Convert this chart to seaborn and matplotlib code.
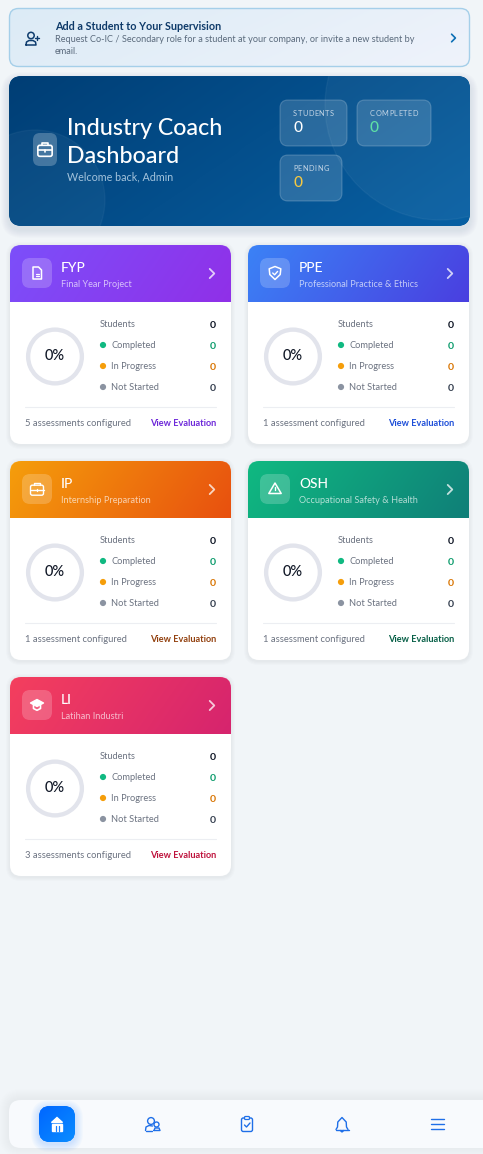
import numpy as np
import pandas as pd
import matplotlib
matplotlib.use("Agg")
import matplotlib.pyplot as plt
from matplotlib.patches import FancyBboxPatch, Circle, Rectangle, Polygon
from matplotlib.colors import LinearSegmentedColormap
import seaborn as sns

# ---------- data ----------
programmes = ["FYP", "PPE", "IP", "OSH", "LI"]
subtitles = ["Final Year Project", "Professional Practice & Ethics", "Internship Preparation",
             "Occupational Safety & Health", "Latihan Industri"]
assessments = ["5 assessments configured", "1 assessment configured", "1 assessment configured",
               "1 assessment configured", "3 assessments configured"]
percent_done = [0, 0, 0, 0, 0]
students = [0, 0, 0, 0, 0]
completed = [0, 0, 0, 0, 0]
in_progress = [0, 0, 0, 0, 0]
not_started = [0, 0, 0, 0, 0]
grad_start = ["#7c4ffa", "#3b82f6", "#f59e0b", "#10b981", "#f43f5e"]
grad_end = ["#9030e8", "#4a3fe0", "#e8500f", "#0f7f78", "#d6246e"]
link_colors = ["#6d28d9", "#1d4ed8", "#92400e", "#065f46", "#be123c"]
status_labels = ["Completed", "In Progress", "Not Started"]
status_dots = ["#10b981", "#f59e0b", "#8b93a1"]
status_values = ["#0f9d6e", "#d97706", "#374151"]
hero_labels = ["STUDENTS", "COMPLETED", "PENDING"]
hero_values = [0, 0, 0]
hero_value_colors = ["#ffffff", "#5fe0a5", "#f5c842"]

W, H = 483, 1154
sns.set_theme(style="white")
FONT = "Lato"
plt.rcParams["font.family"] = [FONT, "DejaVu Sans"]

fig = plt.figure(figsize=(W / 100, H / 100), dpi=100, facecolor="#f1f5f8")
ax = fig.add_axes([0, 0, 1, 1])
ax.set_facecolor("#f1f5f8")
ax.set_xlim(0, W)
ax.set_ylim(H, 0)
ax.axis("off")


def px(s):
    return s * 0.72


def rrect(x, y, w, h, r, fc="none", ec="none", lw=0, alpha=None, z=2):
    p = FancyBboxPatch((x, y), w, h, boxstyle=f"round,pad=0,rounding_size={r}",
                       fc=fc, ec=ec, lw=lw, alpha=alpha, zorder=z)
    ax.add_patch(p)
    return p


def shadow(x, y, w, h, r, spread=6, dy=2, a=0.012, color="#334155", z=1.5):
    for i in range(spread, 0, -1):
        rrect(x - i, y - i + dy, w + 2 * i, h + 2 * i, r + i, fc=color, alpha=a, z=z)


def gradient(x, y, w, h, c0, c1, clip, z=2.1, angle=20):
    cmap = LinearSegmentedColormap.from_list("g", [c0, c1])
    xs, ys = np.meshgrid(np.linspace(0, 1, 160), np.linspace(0, 1, 80))
    a = np.deg2rad(angle)
    t = xs * np.cos(a) + ys * np.sin(a)
    t = (t - t.min()) / (t.max() - t.min())
    im = ax.imshow(t, cmap=cmap, extent=(x, x + w, y + h, y), aspect="auto",
                   interpolation="bilinear", zorder=z)
    im.set_clip_path(clip)


def line(xs, ys, c="#ffffff", lw=1.0, z=5, alpha=None):
    ax.plot(xs, ys, color=c, lw=lw, zorder=z, alpha=alpha,
            solid_capstyle="round", solid_joinstyle="round")


def txt(x, y, s, size, c, ha="left", weight="normal", z=6, alpha=None):
    ax.text(x, y + 0.6, s, fontsize=px(size), color=c, ha=ha, va="center", fontweight=weight,
            zorder=z, alpha=alpha, family=[FONT, "DejaVu Sans"])


def spaced(x, y, s, size, c, width):
    """Letter-spaced label drawn to span the given width."""
    t = ax.text(x, y + 0.6, s, fontsize=px(size), color=c, va="center", zorder=6, alpha=0)
    r = fig.canvas.get_renderer()
    natural = t.get_window_extent(r).width
    t.remove()
    gap = (width - natural) / max(len(s) - 1, 1)
    cursor = x
    for i, ch in enumerate(s):
        ax.text(cursor, y + 0.6, ch, fontsize=px(size), color=c, va="center", zorder=6)
        pre = ax.text(0, 0, s[: i + 1], fontsize=px(size), alpha=0)
        cursor = x + pre.get_window_extent(r).width + gap * (i + 1)
        pre.remove()


def chevron(x, y, s, c, lw=1.2, alpha=None):
    line([x - s / 2, x + s / 2, x - s / 2], [y - s, y, y + s], c, lw, alpha=alpha)


def ring(cx, cy, r, ec, lw=1.0, fc="none", z=5):
    ax.add_patch(Circle((cx, cy), r, fc=fc, ec=ec, lw=lw, zorder=z))


def icon_doc(cx, cy, c="#ffffff"):
    ax.add_patch(Polygon([(cx - 4, cy - 6), (cx + 1.5, cy - 6), (cx + 4.5, cy - 3), (cx + 4.5, cy + 6), (cx - 4, cy + 6)],
                         closed=True, fc="none", ec=c, lw=1.1, joinstyle="round", zorder=5))
    line([cx - 1.5, cx + 2], [cy + 0.5, cy + 0.5], c, 0.9)
    line([cx - 1.5, cx + 2], [cy + 3, cy + 3], c, 0.9)


def icon_shield(cx, cy, c="#ffffff"):
    ax.add_patch(Polygon([(cx, cy - 6.5), (cx + 5.8, cy - 4.2), (cx + 5.2, cy + 1.5), (cx, cy + 6.5), (cx - 5.2, cy + 1.5), (cx - 5.8, cy - 4.2)],
                         closed=True, fc="none", ec=c, lw=1.1, joinstyle="round", zorder=5))
    line([cx - 2.3, cx - 0.4, cx + 2.6], [cy, cy + 1.8, cy - 1.6], c, 1.0)


def icon_case(cx, cy, c="#ffffff", s=1.0, lw=1.0):
    rrect(cx - 6.5 * s, cy - 3.8 * s, 13 * s, 10 * s, 1.8 * s, ec=c, lw=lw, z=5)
    line([cx - 2.6 * s, cx - 2.6 * s, cx + 2.6 * s, cx + 2.6 * s], [cy - 3.8 * s, cy - 6 * s, cy - 6 * s, cy - 3.8 * s], c, lw)
    line([cx - 6.5 * s, cx + 6.5 * s], [cy + 0.8 * s, cy + 0.8 * s], c, lw)
    line([cx, cx], [cy + 0.2 * s, cy + 2.2 * s], c, lw)


def icon_warn(cx, cy, c="#ffffff"):
    ax.add_patch(Polygon([(cx, cy - 6), (cx + 6.2, cy + 4.5), (cx - 6.2, cy + 4.5)], closed=True, fc="none", ec=c, lw=1.1,
                         joinstyle="round", zorder=5))
    line([cx, cx], [cy - 2, cy + 0.8], c, 1.0)
    line([cx, cx + 0.01], [cy + 2.8, cy + 2.8], c, 1.1)


def icon_cap(cx, cy, c="#ffffff"):
    ax.add_patch(Polygon([(cx, cy - 5.5), (cx + 6.5, cy - 2), (cx, cy + 1.5), (cx - 6.5, cy - 2)], closed=True, fc="#ffffff", ec=c,
                         lw=1.0, joinstyle="round", zorder=5))
    line([cx - 3.5, cx - 3.5, cx, cx + 3.5, cx + 3.5], [cy, cy + 3.5, cy + 5.3, cy + 3.5, cy], c, 1.2)


card_icons = [icon_doc, icon_shield, icon_case, icon_warn, icon_cap]

# ---------- banner ----------
clip = rrect(9.5, 8.5, 460, 58, 9, fc="#e6eff8", z=2)
gradient(9.5, 8.5, 460, 58, "#dcebf6", "#eff3fb", clip, z=2.05, angle=15)
rrect(9.5, 8.5, 460, 58, 9, ec="#a5cfe9", lw=1.0, z=2.2)
ring(31, 35.5, 3.2, "#0f3d6e", 1.1)
line([26, 26.5, 29, 33, 35.5, 36, 26], [45, 42, 40.5, 40.5, 42, 45, 45], "#0f3d6e", 1.1)
line([35, 39], [37.5, 37.5], "#0f3d6e", 1.0)
line([37, 37], [35.5, 39.5], "#0f3d6e", 1.0)
txt(55, 25.5, "Add a Student to Your Supervision", 10.8, "#0e3a69", weight="bold")
txt(55, 38.5, "Request Co-IC / Secondary role for a student at your company, or invite a new student by", 9.15, "#5a6a7c")
txt(55, 51, "email.", 9.15, "#5a6a7c")
chevron(453.5, 38, 3.8, "#0c6fb5", 1.2)

# ---------- hero ----------
shadow(9, 76, 461, 150, 13, spread=8, dy=4, a=0.012)
hero = rrect(9, 76, 461, 150, 13, fc="#004f8c", z=2)
gradient(9, 76, 461, 150, "#003e75", "#0860a3", hero, z=2.05, angle=25)
c1 = Circle((440, 105), 115, fc="#ffffff", alpha=0.045, zorder=2.2)
ax.add_patch(c1)
c1.set_clip_path(hero)
c2 = Circle((35, 200), 70, fc="#ffffff", alpha=0.04, zorder=2.2)
ax.add_patch(c2)
c2.set_clip_path(hero)
rrect(33, 133, 24, 33, 7, fc="#ffffff", alpha=0.24, z=3)
icon_case(45, 149.5, "#ffffff", s=1.1, lw=1.2)
txt(67, 128, "Industry Coach", 23.3, "#ffffff", weight="medium")
txt(67, 155.5, "Dashboard", 23.3, "#ffffff", weight="medium")
txt(67, 176.5, "Welcome back, Admin", 10.8, "#a3c3dc")
boxes = [(280, 100, 67, 46), (357, 100, 74, 46), (280, 155, 62, 46)]
label_widths = [40.5, 47.5, 35.5]
for (x, y, w, h), lab, lw_, val, col in zip(boxes, hero_labels, label_widths, hero_values, hero_value_colors):
    rrect(x, y, w, h, 8, fc="#ffffff", alpha=0.15, z=3)
    rrect(x, y, w, h, 8, ec="#ffffff", lw=0.8, alpha=0.2, z=3.1)
    spaced(x + 13, y + 12.5, lab, 7.4, "#c5d6e6", lw_)
    txt(x + 13, y + 27.5, str(val), 15.5, col, weight="medium")

# ---------- programme cards ----------
slots = [(10, 245), (248, 245), (10, 461), (248, 461), (10, 677)]
rows = []
for i, (cx, cy) in enumerate(slots):
    cw, ch = 221, 199
    shadow(cx, cy, cw, ch, 11, spread=4, dy=1, a=0.014)
    card = rrect(cx, cy, cw, ch, 11, fc="#ffffff", z=2)
    gradient(cx, cy, cw, 57, grad_start[i], grad_end[i], card, z=2.1, angle=10)
    rrect(cx + 12, cy + 13, 30, 30, 8, fc="#ffffff", alpha=0.2, z=3)
    card_icons[i](cx + 27, cy + 28)
    txt(cx + 51, cy + 22.5, programmes[i], 13.8, "#ffffff", weight="medium")
    txt(cx + 51, cy + 39, subtitles[i], 9.15, "#ffffff", alpha=0.68)
    chevron(cx + 202, cy + 28.5, 4.6, "#ffffff", 1.3, alpha=0.75)

    # progress ring from the completion share
    ring_ax = ax.inset_axes([cx + 14.5, cy + 81, 61, 61], transform=ax.transData, zorder=4)
    share = [percent_done[i], 100 - percent_done[i]]
    ring_ax.pie(share, radius=1.0, startangle=90, counterclock=False, colors=[grad_end[i], "#e2e4ec"],
                wedgeprops=dict(width=0.15, edgecolor="none"))
    ring_ax.set_xlim(-1.05, 1.05)
    ring_ax.set_ylim(-1.05, 1.05)
    ring_ax.patch.set_alpha(0)
    txt(cx + 45, cy + 110.5, f"{percent_done[i]}%", 14.5, "#111827", ha="center", weight="medium")

    txt(cx + 90, cy + 79, "Students", 9.3, "#6b7280")
    txt(cx + 206, cy + 79.5, str(students[i]), 10.5, "#111827", ha="right", weight="bold")
    for j, (lab, val) in enumerate(zip(status_labels, (completed[i], in_progress[i], not_started[i]))):
        yy = cy + 100 + 21 * j
        rows.append({"x": cx + 93, "y": yy, "status": lab})
        txt(cx + 101, yy, lab, 9.3, "#6b7280")
        txt(cx + 206, yy + 0.5, str(val), 10.5, status_values[j], ha="right", weight="bold")
    line([cx + 15, cx + 206], [cy + 162, cy + 162], "#eceef2", 0.8, z=3)
    txt(cx + 15, cy + 178, assessments[i], 9.35, "#6b7280")
    txt(cx + 206, cy + 178, "View Evaluation", 9.2, link_colors[i], ha="right", weight="bold")

dots = pd.DataFrame(rows)
sns.scatterplot(data=dots, x="x", y="y", hue="status", hue_order=status_labels,
                palette=status_dots, s=20, linewidth=0, legend=False, ax=ax, zorder=6)
ax.set_xlabel("")
ax.set_ylabel("")

# ---------- bottom nav ----------
shadow(9, 1100, 490, 48, 12, spread=10, dy=-1, a=0.003)
rrect(9, 1100, 490, 48, 12, fc="#f8fafd", z=2)
for i in range(8, 0, -1):
    rrect(39 - i, 1106 - i + 2, 36 + 2 * i, 36 + 2 * i, 11 + i, fc="#1e7bff", alpha=0.022, z=2.5)
nav = rrect(39, 1106, 36, 36, 11, fc="#0a7cff", z=3)
gradient(39, 1106, 36, 36, "#0066ff", "#0a8dff", nav, z=3.1, angle=45)
ax.add_patch(Polygon([(57, 1117.5), (62.5, 1122.5), (51.5, 1122.5)], closed=True, fc="#ffffff", zorder=5))
ax.add_patch(Rectangle((52, 1124), 10, 6.5, fc="#ffffff", zorder=5))
line([55.5, 55.5], [1126, 1130.5], "#1a80ff", 0.9)
line([58.5, 58.5], [1126, 1130.5], "#1a80ff", 0.9)

navc = "#1f6fe8"
ring(151, 1121, 3.4, navc, 1.0)
ring(156.5, 1124.5, 2.5, navc, 1.0)
line([145.5, 146, 149, 152.5], [1130.5, 1127, 1125.5, 1126], navc, 1.0)
line([145.5, 152], [1130.5, 1130.5], navc, 1.0)
line([154, 155, 159, 160, 154], [1130.5, 1128, 1128, 1130.5, 1130.5], navc, 1.0)

rrect(241.5, 1118, 11, 13.5, 1.8, ec=navc, lw=1.0, z=5)
rrect(244.5, 1116.5, 5, 3, 1, ec=navc, fc="#f8fafd", lw=0.9, z=5.1)
line([244.5, 246.5, 250], [1125, 1127, 1123], navc, 1.0)

line([336, 337.5, 337.8, 342, 346.2, 346.5, 348], [1129.5, 1127, 1122, 1117.5, 1122, 1127, 1129.5], navc, 1.0)
line([335.5, 348.5], [1129.5, 1129.5], navc, 1.0)
line([340.3, 342, 343.7], [1130.5, 1132, 1130.5], navc, 1.0)

for yy in (1119, 1124, 1129):
    line([430.5, 443.5], [yy, yy], navc, 1.0)

ax.set_xlim(0, W)
ax.set_ylim(H, 0)
fig.savefig("out.png", dpi=100, facecolor=fig.get_facecolor())
